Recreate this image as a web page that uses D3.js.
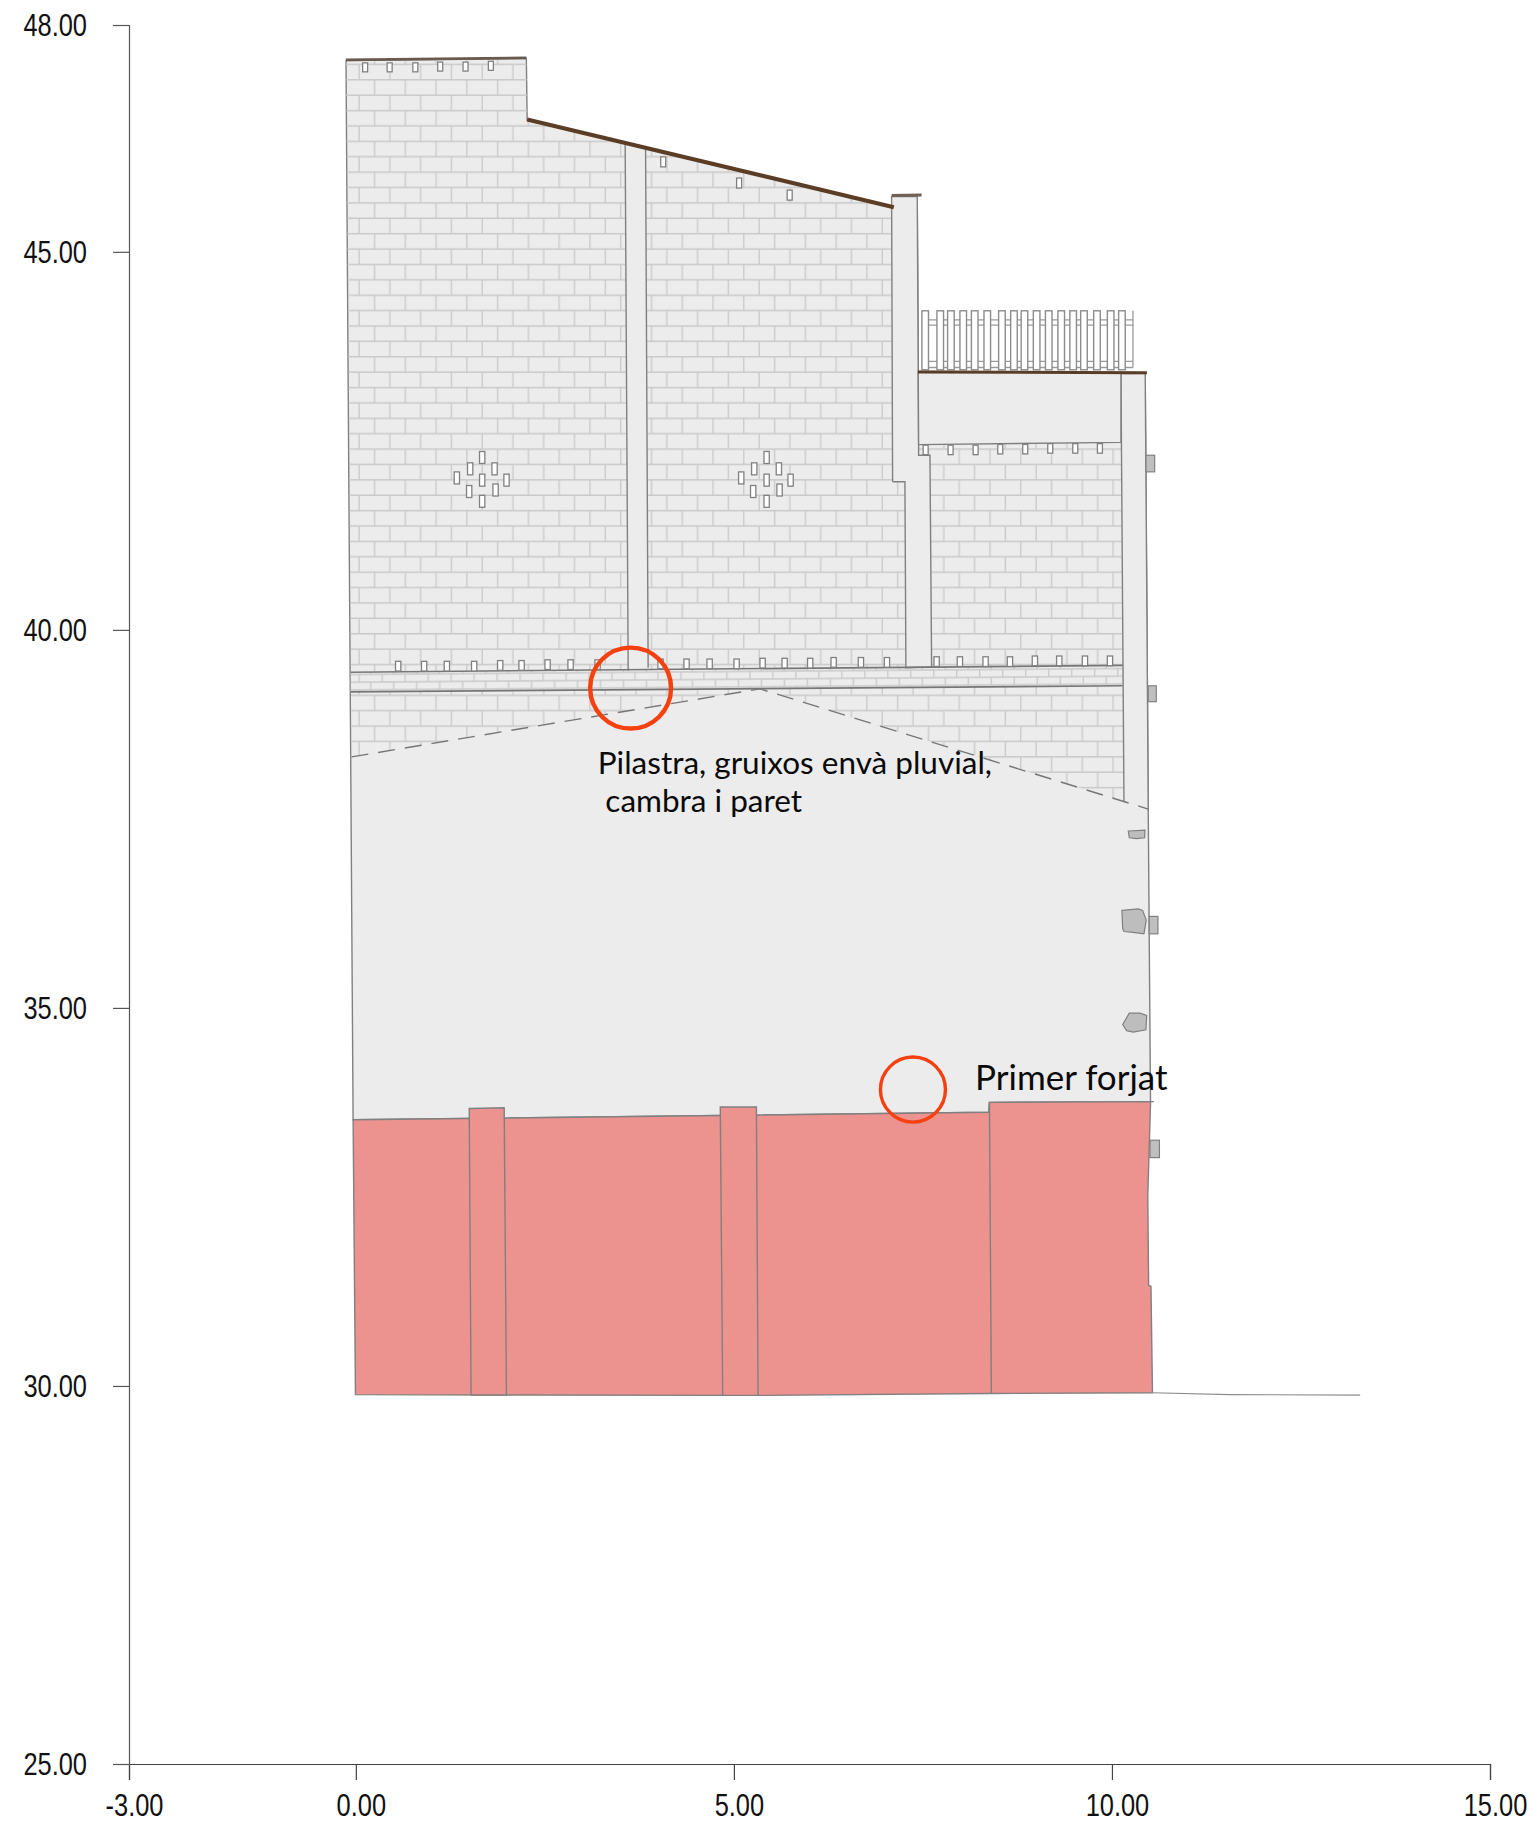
<!DOCTYPE html>
<html>
<head>
<meta charset="utf-8">
<script src="https://cdn.jsdelivr.net/npm/d3@7"></script>
<style>
  body { margin: 0; background: #fff; }
  .axis text { font-family: "Liberation Sans", sans-serif; font-size: 31px; fill: #111; }
  .note { font-family: Lato, "Open Sans", sans-serif; fill: #0a0a0a; }
</style>
</head>
<body>
<svg id="chart" width="1532" height="1822"></svg>
<script>
////////////////////////////////////////////
// DATA (metres)
////////////////////////////////////////////

const xTicks = [-3, 0, 5, 10, 15];
const yTicks = [25, 30, 35, 40, 45, 48];

const wallOutline = [[-0.13,47.53],[2.255,47.56],[2.266,46.74],[7.10,45.59],[7.09,45.73],[7.425,45.73],[7.44,43.42],[10.44,43.39],[10.463,40.13],[10.48,37.62],[10.51,33.76],[8.38,33.75],[8.372,33.62],[-0.036,33.52]];
const brickArea = [[-0.13,47.53],[2.255,47.56],[2.266,46.74],[7.10,45.59],[7.443,42.45],[10.119,42.48],[10.159,37.73],[5.344,39.22],[-0.057,38.32]];
const bandArea = [[-0.066,39.44],[10.142,39.53],[10.142,39.26],[-0.066,39.18]];
const backPilaster = [[7.099,41.96],[7.086,45.73],[7.425,45.73],[7.443,42.45],[7.443,42.31],[7.593,42.31],[7.615,39.51],[7.275,39.50],[7.262,41.96],[7.099,41.96]];
const midPilaster = [[3.602,39.46],[3.562,46.44],[3.832,46.375],[3.866,39.50]];
const sidePilaster = [[10.159,37.73],[10.142,40.13],[10.119,43.39],[10.44,43.39],[10.463,40.13],[10.48,37.63]];
const parapet = [[7.438,43.41],[10.119,43.40],[10.119,42.48],[7.443,42.45]];

const dashedLine = [[-0.057,38.32],[5.344,39.22],[10.48,37.63]];
const bandTop = [[-0.066,39.44],[10.142,39.53]];
const bandBottom = [[-0.066,39.18],[10.142,39.26]];

const copingTop = [[-0.13,47.54],[2.255,47.565]];
const copingSlope = [[2.266,46.75],[7.115,45.59]];
const copingPilaster = [[7.086,45.745],[7.483,45.75]];
const copingTerrace = [[7.434,43.41],[10.463,43.40]];

const forjat = [[-0.036,33.52],[8.372,33.62],[8.38,33.75],[10.511,33.76],[10.474,32.53],[10.485,31.33],[10.516,31.32],[10.536,29.91],[8.405,29.90],[5.32,29.875],[1.992,29.88],[-0.005,29.885]];
const pierOne = [[1.5,33.67],[1.962,33.68],[1.992,29.88],[1.524,29.88]];
const pierTwo = [[4.82,33.69],[5.298,33.69],[5.32,29.875],[4.852,29.875]];
const pierThree = [[8.38,33.75],[8.405,29.90]];
const forjatLip = [[10.511,33.76],[10.555,33.76]];
const terrain = [[10.536,29.91],[11.554,29.885],[13.283,29.88]];

const topVents = [[0.123,47.44],[0.447,47.44],[0.787,47.44],[1.116,47.45],[1.451,47.45],[1.786,47.46]];
const slopeVents = [[4.065,46.19],[5.069,45.91],[5.738,45.75]];
const terraceVents = [[7.536,42.38],[7.866,42.38],[8.197,42.38],[8.523,42.39],[8.853,42.39],[9.184,42.40],[9.515,42.40],[9.841,42.40]];
const bandVents = [[0.56,39.52],[0.903,39.52],[1.204,39.52],[1.565,39.52],[1.909,39.53],[2.192,39.53],[2.536,39.54],[2.84,39.54],[3.197,39.54],[4.03,39.55],[4.374,39.55],[4.679,39.55],[5.036,39.55],[5.38,39.56],[5.671,39.56],[6.009,39.56],[6.319,39.57],[6.68,39.57],[7.024,39.57],[7.681,39.58],[7.989,39.58],[8.329,39.58],[8.651,39.58],[8.981,39.59],[9.303,39.59],[9.643,39.59],[9.974,39.59]];
const rosetteLeft = [[1.671,42.28],[1.512,42.13],[1.835,42.13],[1.336,42.01],[1.671,41.98],[1.993,41.98],[1.499,41.83],[1.848,41.85],[1.671,41.70]];
const rosetteRight = [[5.433,42.28],[5.269,42.13],[5.595,42.13],[5.097,42.01],[5.433,41.98],[5.75,41.98],[5.255,41.83],[5.604,41.85],[5.433,41.70]];

const balusterX = [7.53,7.729,7.87,8.033,8.185,8.351,8.545,8.704,8.843,9.004,9.164,9.329,9.487,9.63,9.802,9.983,10.132];
const balusterTop = 44.22;
const balusterBottom = 43.44;
const railY = [44.10,44.03,43.55,43.47];
const railEnds = [7.483,10.278];

// [x0, y0, x1, y1]
const sideBlocks = [[10.45,42.31,10.565,42.09],[10.48,39.26,10.586,39.05],[10.493,36.21,10.608,35.98],[10.503,33.25,10.628,33.02]];
const stones = [
  [[10.216,37.34],[10.437,37.35],[10.432,37.25],[10.327,37.24],[10.229,37.25]],
  [[10.132,36.29],[10.348,36.31],[10.406,36.29],[10.454,36.16],[10.423,35.98],[10.282,36.00],[10.159,36.01],[10.142,36.05]],
  [[10.142,34.78],[10.229,34.93],[10.37,34.93],[10.459,34.90],[10.45,34.71],[10.282,34.68],[10.194,34.70]]
];

// [x, y, radius, line width]
const circles = [[3.634,39.23,0.535,4.4],[7.368,33.92,0.43,3.4]];
// [text, x, y, size]
const notes = [["Pilastra, gruixos envà pluvial,",3.20,38.09,31.5],["cambra i paret",3.30,37.59,31.5],["Primer forjat",8.19,33.91,35]];

////////////////////////////////////////////
// SCALES AND HELPERS
////////////////////////////////////////////

let svg = d3.select("#chart");
let x = d3.scaleLinear().domain([-3, 15]).range([129, 1490]);
let y = d3.scaleLinear().domain([25, 48]).range([1764, 25]);

let line = d3.line().x(d => x(d[0])).y(d => y(d[1]));
let closed = pts => line(pts) + "Z";

const WALL = "#ececec", EDGE = "#808080", JOINT = "#c9c9c9", ROOF = "#5b3d26";

function drawPath(d, fill, stroke, width){
  return svg.append("path").attr("d", d)
    .attr("fill", fill).attr("stroke", stroke).attr("stroke-width", width)
    .attr("stroke-linejoin", "miter");
}

function drawVents(pts, w, h){
  svg.append("g").selectAll("rect").data(pts).join("rect")
    .attr("x", d => x(d[0]) - w/2)
    .attr("y", d => y(d[1]) - h/2)
    .attr("width", w).attr("height", h)
    .attr("fill", "#fff").attr("stroke", EDGE).attr("stroke-width", 1.3);
}

////////////////////////////////////////////
// BRICK PATTERNS
////////////////////////////////////////////

// lines sit a quarter tile in from the edges so they never get cut in half
function brickPattern(id, ox, oy, w, h, angle){
  let tw = x(w) - x(0), th = y(0) - y(h);
  let p = svg.append("defs").append("pattern")
    .attr("id", id)
    .attr("patternUnits", "userSpaceOnUse")
    .attr("width", tw).attr("height", th)
    .attr("patternTransform", `translate(${x(ox)},${y(oy)}) rotate(${angle}) translate(${-tw/4},${-th/4})`);
  p.append("path")
    .attr("d", `M0,${th/4}H${tw}M0,${th*3/4}H${tw}M${tw/4},${th/4}V${th*3/4}M${tw*3/4},${th*3/4}V${th}M${tw*3/4},0V${th/4}`)
    .attr("fill", "none").attr("stroke", JOINT).attr("stroke-width", 1.3);
}
brickPattern("bricks", 0.247, 47.275, 0.407, 0.407, 0);
brickPattern("bandBricks", 0.044, 39.41, 0.304, 0.204, -0.45);

////////////////////////////////////////////
// ELEVATION
////////////////////////////////////////////

drawPath(closed(wallOutline), WALL, EDGE, 1.4);
drawPath(closed(brickArea), "url(#bricks)", "none", 0);
drawPath(closed(bandArea), WALL, "none", 0);
drawPath(closed(bandArea), "url(#bandBricks)", "none", 0);

drawPath(line(midPilaster), WALL, EDGE, 1.4);
drawPath(line(backPilaster), WALL, EDGE, 1.4);
drawPath(line(sidePilaster), WALL, EDGE, 1.4);
drawPath(closed(parapet), WALL, EDGE, 1.4);

drawPath(line(bandTop), "none", "#767676", 1.6);
drawPath(line(bandBottom), "none", "#767676", 1.6);
drawPath(line(dashedLine), "none", "#767676", 1.4).attr("stroke-dasharray", "17 10");

// railing
railY.forEach(v => {
  svg.append("line")
    .attr("x1", x(railEnds[0])).attr("x2", x(railEnds[1]))
    .attr("y1", y(v)).attr("y2", y(v))
    .attr("stroke", "#9a9a9a").attr("stroke-width", 1.3);
});
svg.append("line")
  .attr("x1", x(railEnds[1])).attr("x2", x(railEnds[1]))
  .attr("y1", y(balusterTop)).attr("y2", y(railY[3]))
  .attr("stroke", "#9a9a9a").attr("stroke-width", 1.3);
svg.append("g").selectAll("rect").data(balusterX).join("rect")
  .attr("x", d => x(d) - 3.3)
  .attr("y", y(balusterTop))
  .attr("width", 6.6)
  .attr("height", y(balusterBottom) - y(balusterTop))
  .attr("fill", "#fff").attr("stroke", "#8c8c8c").attr("stroke-width", 1.4);

// little openings
drawVents(topVents, 5, 9);
drawVents(slopeVents, 5, 10);
drawVents(terraceVents, 5, 9.5);
drawVents(bandVents, 5.3, 9.7);
drawVents(rosetteLeft, 5.3, 12);
drawVents(rosetteRight, 5.3, 12);

// copings
drawPath(line(copingTop), "none", "#6a5a4e", 2.8);
drawPath(line(copingSlope), "none", ROOF, 4.2);
drawPath(line(copingPilaster), "none", "#6f6158", 3);
drawPath(line(copingTerrace), "none", ROOF, 3);

// stones and brackets on the right edge
svg.append("g").selectAll("rect").data(sideBlocks).join("rect")
  .attr("x", d => x(d[0])).attr("y", d => y(d[1]))
  .attr("width", d => x(d[2]) - x(d[0]))
  .attr("height", d => y(d[3]) - y(d[1]))
  .attr("fill", "#bfbfbf").attr("stroke", EDGE).attr("stroke-width", 1.2);
stones.forEach(s => drawPath(closed(s), "#bdbdbd", EDGE, 1.2));

// first floor slab
drawPath(closed(forjat), "#ec928f", EDGE, 1.4);
drawPath(closed(pierOne), "#ec928f", EDGE, 1.4);
drawPath(closed(pierTwo), "#ec928f", EDGE, 1.4);
drawPath(line(pierThree), "none", EDGE, 1.4);
drawPath(line(forjatLip), "none", EDGE, 1.2);
drawPath(line(terrain), "none", "#8c8c8c", 1.2);

////////////////////////////////////////////
// ANNOTATIONS
////////////////////////////////////////////

svg.append("g").selectAll("circle").data(circles).join("circle")
  .attr("cx", d => x(d[0])).attr("cy", d => y(d[1]))
  .attr("r", d => x(d[2]) - x(0))
  .attr("fill", "none").attr("stroke", "#f5400f").attr("stroke-width", d => d[3]);

svg.append("g").selectAll("text").data(notes).join("text")
  .attr("class", "note")
  .attr("x", d => x(d[1])).attr("y", d => y(d[2]))
  .attr("font-size", d => d[3])
  .text(d => d[0]);

////////////////////////////////////////////
// AXES
////////////////////////////////////////////

let tickFormat = d => d3.format(".2f")(d).replace("\u2212", "-");

let xAxis = svg.append("g").attr("class", "axis")
  .attr("transform", `translate(0,${y(25)})`)
  .call(d3.axisBottom(x).tickValues(xTicks).tickFormat(tickFormat).tickSize(16).tickPadding(14));
xAxis.selectAll("text").attr("dx", 5);
xAxis.selectAll("path,line").attr("stroke", "#444").attr("stroke-width", 1.2);

let yAxis = svg.append("g").attr("class", "axis")
  .attr("transform", `translate(${x(-3)},0)`)
  .call(d3.axisLeft(y).tickValues(yTicks).tickFormat(tickFormat).tickSize(16).tickPadding(26));
yAxis.selectAll("text").attr("y", 1);
yAxis.selectAll("path,line").attr("stroke", "#555").attr("stroke-width", 1.2);

// no narrow face installed, squeeze the labels to the same width
svg.selectAll(".axis text")
  .attr("textLength", function(){ return this.getComputedTextLength() * 0.82; })
  .attr("lengthAdjust", "spacingAndGlyphs");
</script>
</body>
</html>
